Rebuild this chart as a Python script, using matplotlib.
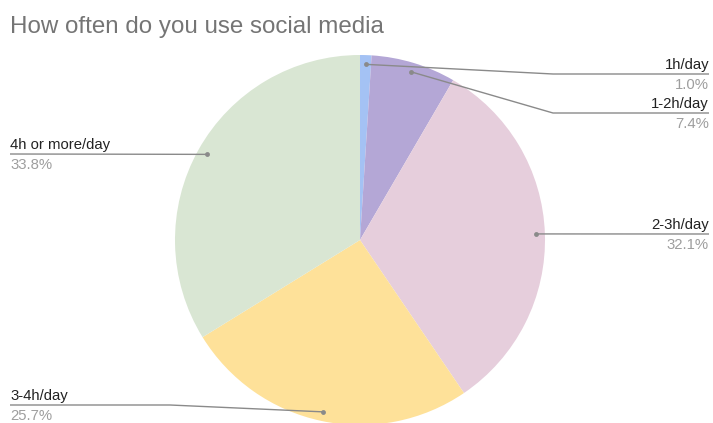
import matplotlib
matplotlib.use("Agg")
import matplotlib.pyplot as plt
import numpy as np

# data
categories = ["1h/day", "1-2h/day", "2-3h/day", "3-4h/day", "4h or more/day"]
shares = [1.0, 7.4, 32.1, 25.7, 33.8]
pct_labels = ["1.0%", "7.4%", "32.1%", "25.7%", "33.8%"]
colors = ["#a4c2f4", "#b4a7d6", "#e6cedc", "#fee199", "#d9e6d3"]

W, H = 713, 423
plt.rcParams["font.family"] = ["Liberation Sans", "DejaVu Sans"]

fig = plt.figure(figsize=(W / 100, H / 100), dpi=100)
ax = fig.add_axes([0, 0, 1, 1])
ax.set_xlim(0, W)
ax.set_ylim(0, H)
ax.set_aspect("equal")
ax.axis("off")


def Y(y):
    # pixel row (from top) -> data y
    return H - y


cx, cy, R = 360, 240, 185
wedges, _ = ax.pie(shares, colors=colors, startangle=90, counterclock=False,
                   center=(cx, Y(cy)), radius=R, frame=True,
                   wedgeprops=dict(linewidth=0))
ax.set_xlim(0, W)
ax.set_ylim(0, H)
ax.axis("off")

ax.text(10, Y(33), "How often do you use social media", fontsize=17.4,
        color="#757575", va="baseline", ha="left")

# label layout: (side, line y in px, elbow x or None)
layout = [
    ("right", 74, 553),
    ("right", 113, 553),
    ("right", 234, None),
    ("left", 405, 170),
    ("left", 154, None),
]

line_col = "#8a8a8a"
for w, name, pct, (side, ly, ex) in zip(wedges, categories, pct_labels, layout):
    th = np.deg2rad((w.theta1 + w.theta2) / 2)
    dx = cx + 0.95 * R * np.cos(th)
    dy = Y(cy) + 0.95 * R * np.sin(th)
    end_x = 709 if side == "right" else 10
    xs = [dx]
    ys = [dy]
    if ex is not None:
        xs.append(ex)
        ys.append(Y(ly))
    xs.append(end_x)
    ys.append(Y(ly))
    ax.plot(xs, ys, color=line_col, lw=1.0, solid_capstyle="butt")
    ax.plot(dx, dy, "o", color=line_col, ms=3.5, mec="none")
    ha = "right" if side == "right" else "left"
    ax.text(end_x, Y(ly - 5), name, fontsize=10.7, color="#222222",
            ha=ha, va="baseline")
    ax.text(end_x, Y(ly + 15), pct, fontsize=10.7, color="#9e9e9e",
            ha=ha, va="baseline")

fig.savefig("out.png", dpi=100)
